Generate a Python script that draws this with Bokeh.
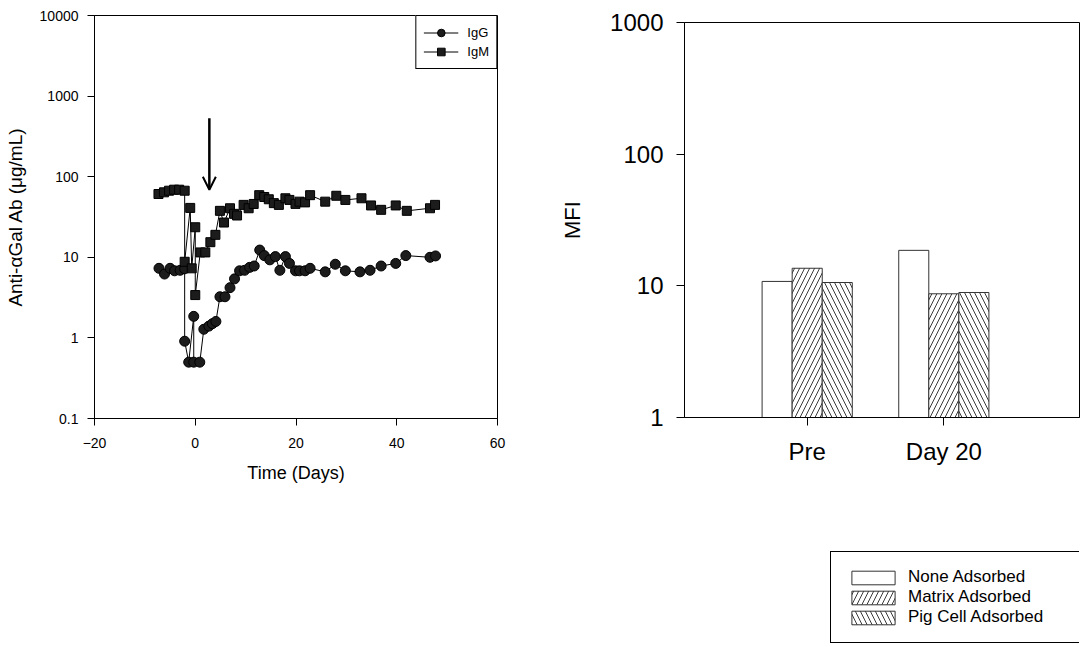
from bokeh.plotting import figure
from bokeh.layouts import row, column
from bokeh.models import (Arrow, OpenHead, Legend, LegendItem, FixedTicker,
                          Range1d)
from bokeh.embed import file_html
from bokeh.resources import INLINE

FONT = "Liberation Sans"

# ---- anti-Gal antibody time course ----
igg_day = [-7.2, -6.1, -5.0, -4.1, -3.0, -2.1, -2.1, -1.3, -0.3, -0.3, 0.9, 1.7,
           2.7, 3.4, 4.1, 4.9, 5.9, 6.9, 7.8, 8.8, 9.8, 10.8, 11.7, 12.8, 13.7,
           14.8, 15.9, 16.8, 17.9, 18.7, 19.9, 20.7, 21.8, 22.8, 25.8, 27.8,
           29.8, 32.7, 34.7, 36.9, 39.8, 41.8, 46.6, 47.7]
igg_val = [7.3, 6.2, 7.3, 6.8, 6.9, 7.2, 0.91, 0.5, 1.85, 0.5, 0.5, 1.28,
           1.4, 1.5, 1.6, 3.24, 3.24, 4.2, 5.4, 6.8, 6.9, 7.5, 7.8, 12.3, 10.5,
           9.3, 10.2, 6.9, 10.2, 8.4, 6.8, 6.8, 6.8, 7.3, 6.6, 8.2,
           6.8, 6.6, 6.9, 7.8, 8.4, 10.5, 10.0, 10.4]

igm_day = [-7.3, -6.2, -5.2, -4.2, -3.2, -2.1, -2.1, -1.0, -0.7, 0.0, 0.0, 1.0,
           2.0, 3.0, 4.0, 4.9, 5.7, 6.9, 7.7, 8.3, 9.6, 10.6, 11.6, 12.7, 13.7,
           14.6, 15.6, 16.6, 17.9, 18.7, 19.9, 20.7, 21.8, 22.8, 25.8, 28.0,
           29.8, 33.0, 34.9, 36.9, 39.8, 42.0, 46.6, 47.6]
igm_val = [61, 64, 67, 69, 69, 67, 8.8, 41, 7.3, 23.6, 3.4, 11.5,
           11.5, 15.4, 19, 37.7, 27, 40.6, 34.6, 33, 44.7, 40.6, 45.9, 59, 56,
           52.5, 47, 44.7, 54, 51.5, 46, 49, 48, 59, 49, 58,
           51.5, 54, 44, 38.8, 44, 37.7, 40.6, 44.7]

time_ticks = [-20, 0, 20, 40, 60]
ab_ticks = [0.1, 1, 10, 100, 1000, 10000]
ab_tick_labels = ["0.1", "1", "10", "100", "1000", "10000"]

# treatment marker (day, from / to level)
arrow_day = 2.8
arrow_from = 533
arrow_to = 69

# ---- MFI after adsorption ----
groups = ["Pre", "Day 20"]
series = ["None Adsorbed", "Matrix Adsorbed", "Pig Cell Adsorbed"]
none_ads = [10.8, 18.6]
matrix_ads = [13.6, 8.7]
pigcell_ads = [10.6, 8.9]
mfi_ticks = [1, 10, 100, 1000]
mfi_tick_labels = ["1", "10", "100", "1000"]


def style_axes(p, tick_size, label_size):
    for ax in (p.xaxis[0], p.yaxis[0]):
        ax.axis_line_color = "black"
        ax.major_tick_line_color = "black"
        ax.major_tick_in = 0
        ax.minor_tick_in = 0
        ax.minor_tick_out = 0
        ax.major_label_text_font = FONT
        ax.major_label_text_font_size = tick_size
        ax.major_label_text_color = "black"
        ax.axis_label_text_font = FONT
        ax.axis_label_text_font_size = label_size
        ax.axis_label_text_font_style = "normal"
        ax.axis_label_text_color = "black"
    p.xgrid.visible = False
    p.ygrid.visible = False
    p.outline_line_color = "black"
    p.outline_line_width = 1
    p.background_fill_color = "white"
    p.border_fill_color = "white"


# ----------------------------------------------------------------- left panel
p1 = figure(width=550, height=647, x_range=Range1d(-20, 60),
            y_range=Range1d(0.1, 10000), y_axis_type="log",
            output_backend="svg", toolbar_location=None,
            min_border_left=94, min_border_right=53,
            min_border_top=15, min_border_bottom=229)
style_axes(p1, "14px", "18px")
p1.xaxis.ticker = FixedTicker(ticks=time_ticks)
p1.yaxis.ticker = FixedTicker(ticks=ab_ticks)
p1.yaxis.major_label_overrides = dict(zip(ab_ticks, ab_tick_labels))
p1.xaxis.major_tick_out = 7
p1.yaxis.major_tick_out = 7
p1.xaxis.major_label_standoff = 12
p1.yaxis.major_label_standoff = 9
p1.xaxis.axis_label = "Time (Days)"
p1.yaxis.axis_label = "Anti-\u03b1Gal Ab (\u03bcg/mL)"
p1.yaxis.axis_label_text_font_size = "19px"
p1.xaxis.axis_label_standoff = 12
p1.yaxis.axis_label_standoff = 11

l_igg = p1.line(igg_day, igg_val, line_color="black", line_width=1)
s_igg = p1.scatter(igg_day, igg_val, marker="circle", size=10,
                   fill_color="#1c1c1c", line_color="black")
l_igm = p1.line(igm_day, igm_val, line_color="black", line_width=1)
s_igm = p1.scatter(igm_day, igm_val, marker="square", size=9,
                   fill_color="#1c1c1c", line_color="black")

p1.add_layout(Arrow(end=OpenHead(size=13, line_width=2, line_color="black"),
                    x_start=arrow_day, y_start=arrow_from,
                    x_end=arrow_day, y_end=arrow_to,
                    line_width=2.5, line_color="black"))

leg1 = Legend(items=[LegendItem(label="IgG", renderers=[l_igg, s_igg]),
                     LegendItem(label="IgM", renderers=[l_igm, s_igm])],
              location="top_right", margin=0, padding=7, spacing=0,
              label_height=19, glyph_height=19, glyph_width=35,
              label_standoff=9, border_line_color="black",
              border_line_alpha=1, border_line_width=1,
              label_text_font=FONT, label_text_color="black",
              label_text_font_size="13px", background_fill_alpha=1)
p1.add_layout(leg1, "center")

# ---------------------------------------------------------------- right panel
p2 = figure(width=535, height=470, x_range=Range1d(0.102, 2.993),
            y_range=Range1d(1, 1000), y_axis_type="log",
            output_backend="svg", toolbar_location=None,
            min_border_left=134, min_border_right=6,
            min_border_top=22, min_border_bottom=53)
style_axes(p2, "24px", "22px")
group_pos = [i + 1 for i in range(len(groups))]
p2.xaxis.ticker = FixedTicker(ticks=group_pos)
p2.xaxis.major_label_overrides = dict(zip(group_pos, groups))
p2.xaxis.major_label_text_font_size = "24px"
p2.yaxis.ticker = FixedTicker(ticks=mfi_ticks)
p2.yaxis.major_label_overrides = dict(zip(mfi_ticks, mfi_tick_labels))
p2.xaxis.major_tick_out = 8
p2.yaxis.major_tick_out = 8
p2.xaxis.major_label_standoff = 12
p2.yaxis.major_label_standoff = 13
p2.yaxis.axis_label = "MFI"
p2.yaxis.axis_label_standoff = 22

bar_w = 0.22
hatches = [None, "right_diagonal_line", "left_diagonal_line"]
bar_style = []
for hatch in hatches:
    kw = dict(fill_color="white", line_color="#333333", line_width=1)
    if hatch:
        kw.update(hatch_pattern=hatch, hatch_scale=10, hatch_color="#3a3a3a",
                  hatch_weight=1)
    bar_style.append(kw)

bar_values = [none_ads, matrix_ads, pigcell_ads]
for k, vals in enumerate(bar_values):
    xs = [g + (k - 1) * bar_w for g in group_pos]
    p2.vbar(x=xs, top=vals, bottom=1, width=bar_w, **bar_style[k])

# key for the bar series, in its own panel under the bar chart
p3 = figure(width=535, height=177, x_range=Range1d(0.102, 2.993),
            y_range=Range1d(1, 1000), y_axis_type="log",
            x_axis_type=None, output_backend="svg",
            toolbar_location=None, min_border=0)
p3.yaxis.visible = False
p3.xgrid.visible = False
p3.ygrid.visible = False
p3.outline_line_color = None
p3.background_fill_color = "white"
p3.border_fill_color = "white"
bar_items = []
for k, (name, vals) in enumerate(zip(series, bar_values)):
    xs = [g + (k - 1) * bar_w for g in group_pos]
    r = p3.vbar(x=xs, top=vals, bottom=1, width=bar_w, visible=False,
                **bar_style[k])
    bar_items.append(LegendItem(label=name, renderers=[r]))

leg2 = Legend(items=bar_items, location=(146, 4), margin=0, padding=15,
              spacing=0, label_height=20, glyph_height=17, glyph_width=54,
              label_width=158, label_standoff=8, border_line_color="black",
              border_line_alpha=1, border_line_width=1,
              label_text_font=FONT, label_text_color="black",
              label_text_font_size="17px", background_fill_alpha=1,
              click_policy="none")
p3.add_layout(leg2, "center")

layout = row(p1, column(p2, p3, spacing=0), spacing=0)
open("out.html", "w").write(file_html(layout, INLINE))
